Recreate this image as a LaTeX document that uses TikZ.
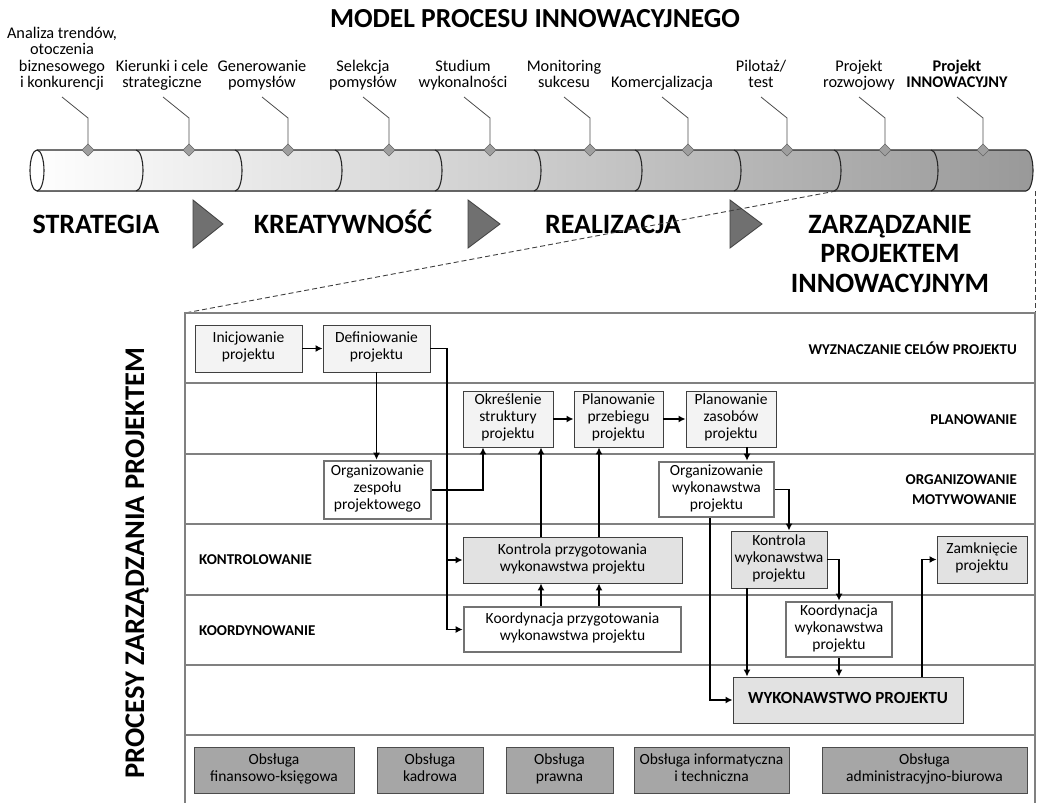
\documentclass[tikz,border=0pt]{standalone}
\usepackage{fontspec}
\setmainfont{Carlito}
\usetikzlibrary{arrows.meta}
\definecolor{lgray}{HTML}{E2E2E2}
\definecolor{vlgray}{HTML}{F3F3F3}
\definecolor{dgray}{HTML}{A6A6A6}
\definecolor{lineg}{HTML}{808080}
\definecolor{trig}{HTML}{707070}
\begin{document}
\begin{tikzpicture}[x=1pt,y=-1pt,
  pbox/.style={draw=black!75, line width=0.9pt, fill=vlgray, align=center, font=\fontsize{15.5}{17}\selectfont, inner sep=1pt, execute at begin node=\strut, execute at end node=\strut},
  gbox/.style={pbox, fill=lgray},
  tbox/.style={pbox, fill=white, draw=black!55, line width=2.6pt},
  sbox/.style={pbox, fill=dgray, draw=black!70, line width=1pt},
  rowlab/.style={font=\bfseries\fontsize{15}{20}\selectfont, inner sep=0pt, align=right},
  stage/.style={font=\bfseries\fontsize{28}{29.5}\selectfont, align=center, inner sep=0pt},
  toplab/.style={font=\fontsize{16.3}{16.5}\selectfont, align=center, anchor=south, inner sep=0pt, execute at end node=\strut},
  leader/.style={draw=black!70, line width=0.8pt},
  diam/.style={draw=black!60, fill=gray!75, line width=0.6pt},
  arr/.style={-{Latex[length=7pt,width=7pt]}, line width=1.6pt},
  sep/.style={draw=lineg, line width=1.2pt},
  tri/.style={fill=trig, draw=black!75, line width=0.8pt},
  zoomline/.style={draw=black!75, line width=0.9pt, dash pattern=on 5pt off 3pt}
]
\useasboundingbox (0,0) rectangle (1050,803);

% title
\node[font=\bfseries\fontsize{27.5}{30}\selectfont, inner sep=0pt] (title) at (535,19) {MODEL PROCESU INNOWACYJNEGO};

% cylinder body
\fill[left color=white, right color=black!40] (37,150) -- (1026,150)
  arc[start angle=90, end angle=-90, x radius=7pt, y radius=20.5pt] -- (37,191)
  arc[start angle=270, end angle=90, x radius=7pt, y radius=20.5pt] -- cycle;
\draw[black!85, line width=1.1pt] (37,150) -- (1026,150)
  arc[start angle=90, end angle=-90, x radius=7pt, y radius=20.5pt] -- (37,191);
\foreach \a in {143,242,342,442,541,642,741,841,938}
  \draw[black!85, line width=1.1pt] (\a-7,150) arc[start angle=90, end angle=-90, x radius=7pt, y radius=20.5pt];
\draw[black!85, line width=1.1pt, fill=white] (37,170.5) ellipse[x radius=7pt, y radius=20.5pt];

% diamonds, leaders and labels
\foreach \x [count=\i] in {88,189,288,389,490,590,688,787,885,983}{
  \coordinate (lt\i) at (\x-26,97);
  \coordinate (lb\i) at (\x,118);
  \draw[leader] (\x,150) -- (lb\i) -- (lt\i);
  \draw[diam] (\x,144) -- (\x+6,150) -- (\x,156) -- (\x-6,150) -- cycle;
}
\node[toplab] (t1) at (62,93) {Analiza trendów,\\otoczenia\\biznesowego\\i konkurencji};
\node[toplab] (t2) at (162,93) {Kierunki i cele\\strategiczne};
\node[toplab] (t3) at (262,93) {Generowanie\\pomysłów};
\node[toplab] (t4) at (363,93) {Selekcja\\pomysłów};
\node[toplab] (t5) at (463,93) {Studium\\wykonalności};
\node[toplab] (t6) at (564,93) {Monitoring\\sukcesu};
\node[toplab] (t7) at (662,93) {Komercjalizacja};
\node[toplab] (t8) at (761,93) {Pilotaż/\\test};
\node[toplab] (t9) at (859,93) {Projekt\\rozwojowy};
\node[toplab, font=\bfseries\fontsize{16.3}{16.5}\selectfont] (t10) at (957,93) {Projekt\\INNOWACYJNY};

% stages
\node[stage, anchor=base] (s1) at (96,233) {STRATEGIA};
\node[stage, anchor=base] (s2) at (343,233) {KREATYWNOŚĆ};
\node[stage, anchor=base] (s3) at (613,233) {REALIZACJA};
\node[stage] (s4) at (890,254) {ZARZĄDZANIE\\PROJEKTEM\\INNOWACYJNYM};
\draw[tri] (193,200) -- (223,224) -- (193,248) -- cycle;
\draw[tri] (468,200) -- (500,224) -- (468,248) -- cycle;
\draw[tri] (730,200) -- (762,224) -- (730,248) -- cycle;

% zoom lines
\coordinate (zA) at (836,191);
\coordinate (zB) at (1035,191);
\coordinate (bTL) at (185,313);
\coordinate (bTR) at (1035,313);
\draw[zoomline] (zA) -- (bTL);
\draw[zoomline] (zB) -- (bTR);

% process frame
\draw[sep] (185,806) -- (bTL) -- (bTR) -- (1035,806);
\foreach \y in {383,454,524,595,665,735}
  \draw[sep] (185,\y) -- (1035,\y);

\node[font=\bfseries\fontsize{28.5}{30}\selectfont, rotate=90, inner sep=0pt] (vt) at (137,563) {PROCESY ZARZĄDZANIA PROJEKTEM};

% row labels
\node[rowlab, anchor=base east] (r1) at (1017,354) {WYZNACZANIE CELÓW PROJEKTU};
\node[rowlab, anchor=base east] (r2) at (1017,424) {PLANOWANIE};
\node[rowlab, anchor=east] (r3) at (1017,490) {ORGANIZOWANIE\\MOTYWOWANIE};
\node[rowlab, anchor=base west] (r4) at (199,564) {KONTROLOWANIE};
\node[rowlab, anchor=base west] (r5) at (199,635) {KOORDYNOWANIE};

% process nodes
\node[pbox, minimum width=107pt, minimum height=47pt] (ini) at (248.5,348.5) {Inicjowanie\\projektu};
\node[pbox, minimum width=107pt, minimum height=47pt] (def) at (376.5,348.5) {Definiowanie\\projektu};
\node[tbox, minimum width=107pt, minimum height=58pt] (orgz) at (377.5,490) {Organizowanie\\zespołu\\projektowego};
\node[pbox, minimum width=90pt, minimum height=56pt] (okr) at (508,419) {Określenie\\struktury\\projektu};
\node[pbox, minimum width=89pt, minimum height=56pt] (pprz) at (618.5,419) {Planowanie\\przebiegu\\projektu};
\node[pbox, minimum width=90pt, minimum height=56pt] (pzas) at (731,419) {Planowanie\\zasobów\\projektu};
\node[tbox, minimum width=115pt, minimum height=55pt] (orgw) at (716.5,489.5) {Organizowanie\\wykonawstwa\\projektu};
\node[gbox, minimum width=219pt, minimum height=46pt] (kprz) at (572.5,560) {Kontrola przygotowania\\wykonawstwa projektu};
\node[tbox, minimum width=217pt, minimum height=45pt] (koprz) at (572.5,629.5) {Koordynacja przygotowania\\wykonawstwa projektu};
\node[gbox, minimum width=96pt, minimum height=57pt] (kwyk) at (779,559.5) {Kontrola\\wykonawstwa\\projektu};
\node[tbox, minimum width=106pt, minimum height=55pt] (kowyk) at (839,629.5) {Koordynacja\\wykonawstwa\\projektu};
\node[gbox, minimum width=230pt, minimum height=46pt, font=\bfseries\fontsize{17}{18}\selectfont] (wyk) at (848,700) {WYKONAWSTWO PROJEKTU};
\node[gbox, minimum width=90pt, minimum height=47pt] (zam) at (982,559.5) {Zamknięcie\\projektu};

% support nodes
\node[sbox, minimum width=160pt, minimum height=46pt] (b1) at (274,770) {Obsługa\\finansowo-księgowa};
\node[sbox, minimum width=106pt, minimum height=46pt] (b2) at (430,770) {Obsługa\\kadrowa};
\node[sbox, minimum width=107pt, minimum height=46pt] (b3) at (559.5,770) {Obsługa\\prawna};
\node[sbox, minimum width=155pt, minimum height=46pt] (b4) at (711.5,770) {Obsługa informatyczna\\i techniczna};
\node[sbox, minimum width=205pt, minimum height=46pt] (b5) at (924.5,770) {Obsługa\\administracyjno-biurowa};

% connectors
\draw[arr] (ini) -- (def);
\draw[arr] (def.south) -- (def.south |- orgz.north);
\coordinate (bus) at (447,348.5);
\draw[arr] (def.east) -- (bus) |- (koprz.west);
\draw[arr] (bus) |- (kprz.west);
\draw[arr] (orgz.east) -| ([xshift=-25pt]okr.south);
\draw[arr] (okr) -- (pprz);
\draw[arr] (pprz) -- (pzas);
\draw[arr] ([xshift=16pt]pzas.south) -- ([xshift=16pt]pzas.south |- orgw.north);
\draw[arr] (orgw.east) -| ([xshift=10pt]kwyk.north);
\draw[arr] ([xshift=-6.5pt]orgw.south) |- (wyk.west);
\draw[arr] (kwyk.east) -| (kowyk.north);
\draw[arr] (kowyk.south) -- (kowyk.south |- wyk.north);
\draw[arr] ([xshift=-32pt]kwyk.south) -- ([xshift=-32pt]kwyk.south |- wyk.north);
\draw[arr] ([xshift=74pt]wyk.north) |- (zam.west);
\draw[arr] ([xshift=-31.5pt]koprz.north) -- ([xshift=-31.5pt]koprz.north |- kprz.south);
\draw[arr] ([xshift=26.5pt]koprz.north) -- ([xshift=26.5pt]koprz.north |- kprz.south);
\draw[arr] ([xshift=-31.5pt]kprz.north) -- ([xshift=-31.5pt]kprz.north |- okr.south);
\draw[arr] ([xshift=26.5pt]kprz.north) -- ([xshift=26.5pt]kprz.north |- pprz.south);
\end{tikzpicture}
\end{document}
